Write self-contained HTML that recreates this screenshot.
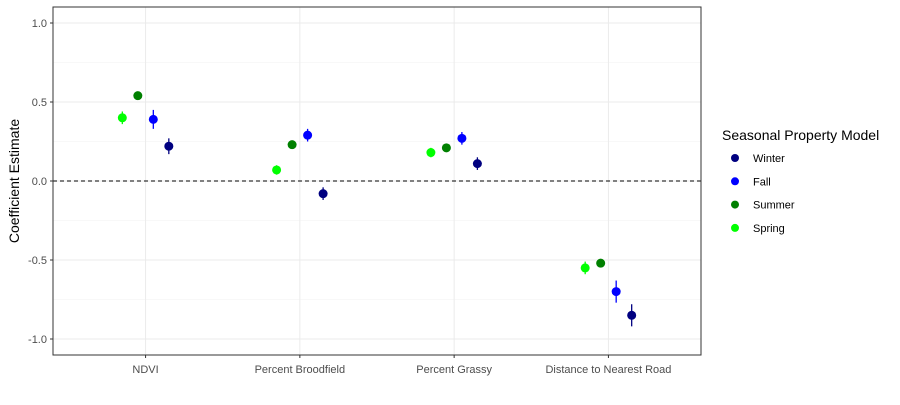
<!DOCTYPE html>
<html><head><meta charset="utf-8"><style>
body{margin:0;background:#fff;}
svg{font-family:"Liberation Sans",Arial,sans-serif;}
</style></head><body>
<svg id="chart" width="900" height="400"></svg>
<script>
const categories=["NDVI","Percent Broodfield","Percent Grassy","Distance to Nearest Road"];
const seasons=["Spring","Summer","Fall","Winter"];
const colors={"Winter":"#000080","Fall":"#0000FF","Summer":"#008000","Spring":"#00FF00"};
const springVals=[0.40,0.07,0.18,-0.55];
const summerVals=[0.54,0.23,0.21,-0.52];
const fallVals=[0.39,0.29,0.27,-0.70];
const winterVals=[0.22,-0.08,0.11,-0.85];
const springErr=[0.04,0.03,0.03,0.04];
const summerErr=[0.02,0.02,0.02,0.02];
const fallErr=[0.06,0.04,0.04,0.07];
const winterErr=[0.05,0.04,0.04,0.07];
const yTicks=[1.0,0.5,0.0,-0.5,-1.0];
const yMinor=[0.75,0.25,-0.25,-0.75];
const legendOrder=["Winter","Fall","Summer","Spring"];

const NS="http://www.w3.org/2000/svg";
const svg=document.getElementById("chart");
function mk(t,a,p){const e=document.createElementNS(NS,t);for(const k in a)e.setAttribute(k,a[k]);(p||svg).appendChild(e);return e;}
const L=53,R=701,T=7,B=355;
const y=v=>181-v*158;
const step=(R-L)/4.2;
const x=i=>L+(0.6+i)*step;
const dodge=15.5;

const g=mk("g",{});


yMinor.forEach(v=>mk("line",{x1:L,x2:R,y1:y(v),y2:y(v),stroke:"#f2f2f2","stroke-width":0.6},g));
yTicks.forEach(v=>{const l=mk("line",{x1:L,x2:R,y1:y(v),y2:y(v),stroke:"#ebebeb","stroke-width":1},g);
});
categories.forEach((c,i)=>mk("line",{x1:x(i),x2:x(i),y1:T,y2:B,stroke:"#ebebeb","stroke-width":1},g));
const zl=mk("line",{x1:L,x2:R,y1:y(0),y2:y(0),stroke:"#000","stroke-width":1,"stroke-dasharray":"4,3"},g);


const series={Spring:[springVals,springErr],Summer:[summerVals,summerErr],Fall:[fallVals,fallErr],Winter:[winterVals,winterErr]};
seasons.forEach((s,si)=>{
  const [vals,errs]=series[s];
  vals.forEach((v,i)=>{
    const cx=x(i)+(si-1.5)*dodge;
    const eb=mk("line",{x1:cx,x2:cx,y1:y(v+errs[i]),y2:y(v-errs[i]),stroke:colors[s],"stroke-width":1.3},g);
    
    const p=mk("circle",{cx:cx,cy:y(v),r:4.5,fill:colors[s]},g);
    
  });
});
const border=mk("rect",{x:L,y:T,width:R-L,height:B-T,fill:"none",stroke:"#333","stroke-width":1});


yTicks.forEach(v=>{
  mk("line",{x1:L-3,x2:L,y1:y(v),y2:y(v),stroke:"#333"});
  const t=mk("text",{x:L-6,y:y(v)+4,"text-anchor":"end","font-size":11,fill:"#4d4d4d"});
  t.textContent=v.toFixed(1);
  
});
categories.forEach((c,i)=>{
  mk("line",{x1:x(i),x2:x(i),y1:B,y2:B+3,stroke:"#333"});
  const t=mk("text",{x:x(i),y:373,"text-anchor":"middle","font-size":11,fill:"#4d4d4d"});
  t.textContent=c;
  
});
const yt=mk("text",{x:0,y:0,transform:"translate(19,181) rotate(-90)","text-anchor":"middle","font-size":14,fill:"#000"});
yt.textContent="Coefficient Estimate";


const lg=mk("g",{});

const lt=mk("text",{x:722,y:140,"font-size":14,fill:"#000"},lg);
lt.textContent="Seasonal Property Model";

legendOrder.forEach((s,i)=>{
  const cy=158+i*23.3;
  const c=mk("circle",{cx:735,cy:cy,r:4,fill:colors[s]},lg);
  
  const t=mk("text",{x:753,y:cy+4,"font-size":11,fill:"#000"},lg);
  t.textContent=s;
  
});
</script>
</body></html>
